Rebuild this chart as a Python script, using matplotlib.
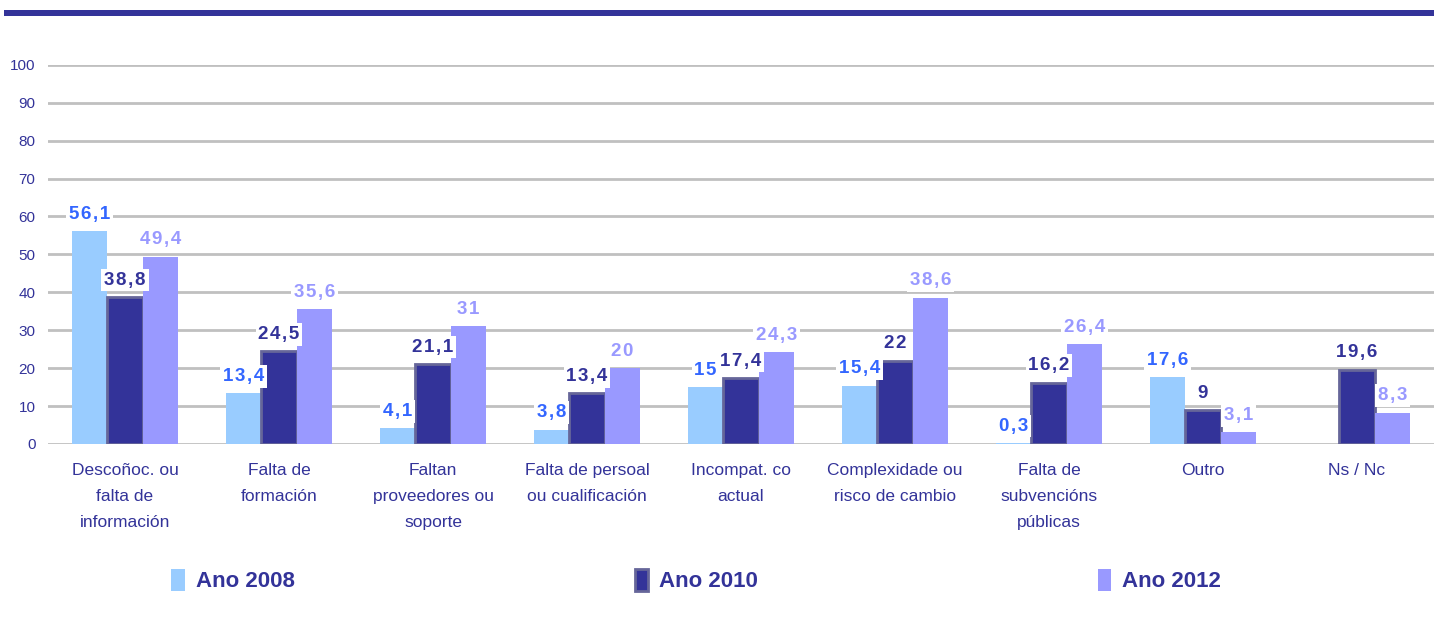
import numpy as np
import matplotlib
matplotlib.use("Agg")
import matplotlib.pyplot as plt
from matplotlib.patches import Rectangle

plt.rcParams['font.family'] = ['Liberation Sans', 'DejaVu Sans']

categories = ["Descoñoc. ou\nfalta de\ninformación", "Falta de\nformación",
              "Faltan\nproveedores ou\nsoporte", "Falta de persoal\nou cualificación",
              "Incompat. co\nactual", "Complexidade ou\nrisco de cambio",
              "Falta de\nsubvencións\npúblicas", "Outro", "Ns / Nc"]
ano_2008 = [56.1, 13.4, 4.1, 3.8, 15, 15.4, 0.3, 17.6, np.nan]
ano_2010 = [38.8, 24.5, 21.1, 13.4, 17.4, 22, 16.2, 9, 19.6]
ano_2012 = [49.4, 35.6, 31, 20, 24.3, 38.6, 26.4, 3.1, 8.3]
series_names = ["Ano 2008", "Ano 2010", "Ano 2012"]
yticks = list(range(0, 101, 10))

bar_colors = ["#99CCFF", "#333399", "#9999FF"]
label_colors = ["#3366FF", "#333399", "#9999FF"]
edge_colors = ["none", "#666699", "none"]
text_color = "#333399"

fig = plt.figure(figsize=(14.34, 6.32), dpi=100)
ax = fig.add_axes([0.0335, 0.2975, 0.9665, 0.6])

# header band
fig.add_artist(Rectangle((4 / 1434, 1 - 16 / 632), 1, 6 / 632, transform=fig.transFigure,
                         color="#333399", lw=0))

x = np.arange(len(categories))
w = 0.23
for k, vals in enumerate([ano_2008, ano_2010, ano_2012]):
    pos = x + (k - 1) * w
    ax.bar(pos, vals, w, color=bar_colors[k], edgecolor=edge_colors[k],
           linewidth=2 if k == 1 else 0, label=series_names[k], zorder=3)
    for p, v in zip(pos, vals):
        if np.isnan(v):
            continue
        txt = "\u200a".join(f"{v:g}".replace(".", ","))
        ax.annotate(txt, (p, v), xytext=(0, 6), textcoords="offset points",
                    ha="center", va="bottom", fontsize=13.5, fontweight="bold",
                    color=label_colors[k], zorder=4,
                    bbox=dict(boxstyle="square,pad=0.15", fc="white", ec="none"))

ax.set_ylim(0, 100)
ax.set_xlim(-0.5, len(categories) - 0.5)
ax.set_yticks(yticks)
ax.yaxis.grid(True, color="#C0C0C0", linewidth=2)
ax.set_axisbelow(True)
for s in ax.spines.values():
    s.set_visible(False)
ax.tick_params(axis="y", length=0, labelsize=11, labelcolor=text_color, pad=9)
ax.tick_params(axis="x", length=0, labelsize=12.5, labelcolor=text_color, pad=14)
ax.set_xticks(x)
ax.set_xticklabels(categories, linespacing=1.9, va="top")

ax.legend(loc="center left", bbox_to_anchor=(0.089, -0.36), ncol=3, frameon=False,
          handlelength=0.6, handleheight=1.2, handletextpad=0.5, columnspacing=15.3,
          borderpad=0, borderaxespad=0,
          prop={"size": 16, "weight": "bold"}, labelcolor=text_color)

fig.savefig("out.png", dpi=100)
